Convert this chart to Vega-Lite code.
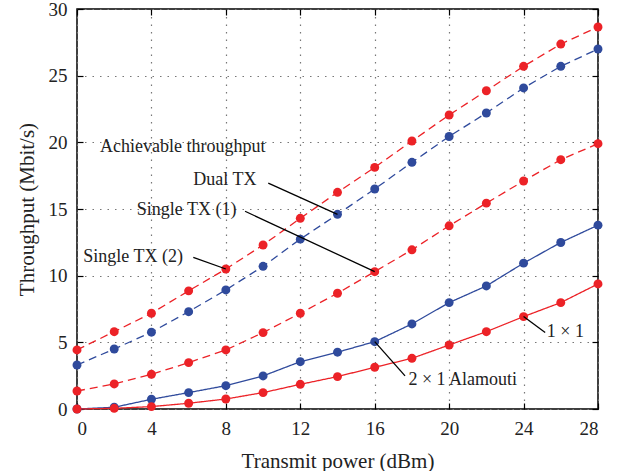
{
  "$schema": "https://vega.github.io/schema/vega-lite/v6.json",
  "width": 521,
  "height": 400,
  "autosize": "none",
  "padding": {"left": 77, "top": 9, "right": 21, "bottom": 62},
  "background": "white",
  "config": {
    "view": {"stroke": "black", "strokeWidth": 1.5},
    "font": "Liberation Serif",
    "axis": {
      "labelFont": "Liberation Serif",
      "titleFont": "Liberation Serif",
      "labelFontSize": 19,
      "titleFontSize": 21,
      "titleFontWeight": "normal",
      "labelColor": "#222",
      "titleColor": "#222",
      "domain": false,
      "tickColor": "black",
      "tickSize": -6,
      "tickWidth": 1.2,
      "gridColor": "#777",
      "gridDash": [1.5, 6],
      "gridWidth": 1.2
    }
  },
  "datasets": {
    "curves": [
      {"series": "single_tx_2", "p": 0, "t": 4.43}, {"series": "single_tx_2", "p": 2, "t": 5.8}, {"series": "single_tx_2", "p": 4, "t": 7.18}, {"series": "single_tx_2", "p": 6, "t": 8.86}, {"series": "single_tx_2", "p": 8, "t": 10.5}, {"series": "single_tx_2", "p": 10, "t": 12.3}, {"series": "single_tx_2", "p": 12, "t": 14.3}, {"series": "single_tx_2", "p": 14, "t": 16.25}, {"series": "single_tx_2", "p": 16, "t": 18.12}, {"series": "single_tx_2", "p": 18, "t": 20.1}, {"series": "single_tx_2", "p": 20, "t": 22.05}, {"series": "single_tx_2", "p": 22, "t": 23.87}, {"series": "single_tx_2", "p": 24, "t": 25.7}, {"series": "single_tx_2", "p": 26, "t": 27.37}, {"series": "single_tx_2", "p": 28, "t": 28.65},
      {"series": "dual_tx", "p": 0, "t": 3.3}, {"series": "dual_tx", "p": 2, "t": 4.5}, {"series": "dual_tx", "p": 4, "t": 5.76}, {"series": "dual_tx", "p": 6, "t": 7.3}, {"series": "dual_tx", "p": 8, "t": 8.93}, {"series": "dual_tx", "p": 10, "t": 10.7}, {"series": "dual_tx", "p": 12, "t": 12.74}, {"series": "dual_tx", "p": 14, "t": 14.6}, {"series": "dual_tx", "p": 16, "t": 16.5}, {"series": "dual_tx", "p": 18, "t": 18.5}, {"series": "dual_tx", "p": 20, "t": 20.44}, {"series": "dual_tx", "p": 22, "t": 22.2}, {"series": "dual_tx", "p": 24, "t": 24.08}, {"series": "dual_tx", "p": 26, "t": 25.7}, {"series": "dual_tx", "p": 28, "t": 27.0},
      {"series": "single_tx_1", "p": 0, "t": 1.35}, {"series": "single_tx_1", "p": 2, "t": 1.88}, {"series": "single_tx_1", "p": 4, "t": 2.6}, {"series": "single_tx_1", "p": 6, "t": 3.48}, {"series": "single_tx_1", "p": 8, "t": 4.43}, {"series": "single_tx_1", "p": 10, "t": 5.73}, {"series": "single_tx_1", "p": 12, "t": 7.18}, {"series": "single_tx_1", "p": 14, "t": 8.68}, {"series": "single_tx_1", "p": 16, "t": 10.3}, {"series": "single_tx_1", "p": 18, "t": 11.94}, {"series": "single_tx_1", "p": 20, "t": 13.74}, {"series": "single_tx_1", "p": 22, "t": 15.44}, {"series": "single_tx_1", "p": 24, "t": 17.1}, {"series": "single_tx_1", "p": 26, "t": 18.7}, {"series": "single_tx_1", "p": 28, "t": 19.9},
      {"series": "alamouti_2x1", "p": 0, "t": 0.0}, {"series": "alamouti_2x1", "p": 2, "t": 0.13}, {"series": "alamouti_2x1", "p": 4, "t": 0.73}, {"series": "alamouti_2x1", "p": 6, "t": 1.23}, {"series": "alamouti_2x1", "p": 8, "t": 1.75}, {"series": "alamouti_2x1", "p": 10, "t": 2.48}, {"series": "alamouti_2x1", "p": 12, "t": 3.55}, {"series": "alamouti_2x1", "p": 14, "t": 4.26}, {"series": "alamouti_2x1", "p": 16, "t": 5.05}, {"series": "alamouti_2x1", "p": 18, "t": 6.38}, {"series": "alamouti_2x1", "p": 20, "t": 7.98}, {"series": "alamouti_2x1", "p": 22, "t": 9.23}, {"series": "alamouti_2x1", "p": 24, "t": 10.94}, {"series": "alamouti_2x1", "p": 26, "t": 12.49}, {"series": "alamouti_2x1", "p": 28, "t": 13.79},
      {"series": "siso_1x1", "p": 0, "t": 0.0}, {"series": "siso_1x1", "p": 2, "t": 0.05}, {"series": "siso_1x1", "p": 4, "t": 0.18}, {"series": "siso_1x1", "p": 6, "t": 0.43}, {"series": "siso_1x1", "p": 8, "t": 0.75}, {"series": "siso_1x1", "p": 10, "t": 1.23}, {"series": "siso_1x1", "p": 12, "t": 1.85}, {"series": "siso_1x1", "p": 14, "t": 2.43}, {"series": "siso_1x1", "p": 16, "t": 3.13}, {"series": "siso_1x1", "p": 18, "t": 3.8}, {"series": "siso_1x1", "p": 20, "t": 4.8}, {"series": "siso_1x1", "p": 22, "t": 5.8}, {"series": "siso_1x1", "p": 24, "t": 6.93}, {"series": "siso_1x1", "p": 26, "t": 7.98}, {"series": "siso_1x1", "p": 28, "t": 9.38}
    ],
    "notes": [
      {"label": "Achievable throughput", "lx": 1.24, "ly": 19.67},
      {"label": "Dual TX", "lx": 6.25, "ly": 17.14, "x1": 10.28, "y1": 16.94, "x2": 14, "y2": 14.6},
      {"label": "Single TX (1)", "lx": 3.21, "ly": 14.9, "x1": 9.03, "y1": 14.83, "x2": 16, "y2": 10.3},
      {"label": "Single TX (2)", "lx": 0.34, "ly": 11.43, "x1": 6.25, "y1": 11.37, "x2": 8, "y2": 10.5},
      {"label": "1 × 1", "lx": 25.25, "ly": 5.8, "x1": 25.16, "y1": 5.74, "x2": 24, "y2": 6.93},
      {"label": "2 × 1 Alamouti", "lx": 17.81, "ly": 2.18, "x1": 17.63, "y1": 2.48, "x2": 16, "y2": 5.05}
    ]
  },
  "layer": [
    {
      "data": {"name": "curves"},
      "mark": {"type": "line", "strokeWidth": 1.3},
      "encoding": {
        "x": {"field": "p", "type": "quantitative", "scale": {"domain": [0, 28], "nice": false},
              "axis": {"values": [0, 4, 8, 12, 16, 20, 24, 28], "title": "Transmit power (dBm)", "labelPadding": 16, "titlePadding": 12, "grid": true}},
        "y": {"field": "t", "type": "quantitative", "scale": {"domain": [0, 30], "nice": false},
              "axis": {"values": [0, 5, 10, 15, 20, 25, 30], "title": "Throughput (Mbit/s)", "labelPadding": 16, "titlePadding": 11, "grid": true}},
        "detail": {"field": "series"},
        "color": {"field": "series", "type": "nominal", "legend": null,
                  "scale": {"domain": ["single_tx_2", "dual_tx", "single_tx_1", "alamouti_2x1", "siso_1x1"],
                            "range": ["#ec2227", "#2f4a9c", "#ec2227", "#2f4a9c", "#ec2227"]}},
        "strokeDash": {"field": "series", "type": "nominal", "legend": null,
                       "scale": {"domain": ["single_tx_2", "dual_tx", "single_tx_1", "alamouti_2x1", "siso_1x1"],
                                 "range": [[8, 5], [8, 5], [8, 5], [1, 0], [1, 0]]}}
      }
    },
    {
      "data": {"name": "curves"},
      "mark": {"type": "point", "shape": "circle", "filled": true, "opacity": 1, "size": 80},
      "encoding": {
        "x": {"field": "p", "type": "quantitative", "axis": null},
        "y": {"field": "t", "type": "quantitative", "axis": null},
        "color": {"field": "series", "type": "nominal", "legend": null}
      }
    },
    {
      "data": {"name": "notes"},
      "transform": [{"filter": "isValid(datum.x1)"}],
      "mark": {"type": "rule", "color": "black", "strokeWidth": 1.3},
      "encoding": {
        "x": {"field": "x1", "type": "quantitative", "axis": null},
        "y": {"field": "y1", "type": "quantitative", "axis": null},
        "x2": {"field": "x2"},
        "y2": {"field": "y2"}
      }
    },
    {
      "data": {"name": "notes"},
      "mark": {"type": "text", "align": "left", "baseline": "middle", "font": "Liberation Serif", "fontSize": 18, "color": "#222"},
      "encoding": {
        "x": {"field": "lx", "type": "quantitative", "axis": null},
        "y": {"field": "ly", "type": "quantitative", "axis": null},
        "text": {"field": "label"}
      }
    },
    {
      "data": {"values": [{"p": 0, "t": 0}]},
      "mark": {"type": "point", "opacity": 0},
      "encoding": {
        "x": {"field": "p", "type": "quantitative",
              "axis": {"orient": "top", "values": [0, 4, 8, 12, 16, 20, 24, 28], "labels": false, "title": null, "grid": false}},
        "y": {"field": "t", "type": "quantitative",
              "axis": {"orient": "right", "values": [0, 5, 10, 15, 20, 25, 30], "labels": false, "title": null, "grid": false}}
      }
    }
  ],
  "resolve": {"axis": {"x": "independent", "y": "independent"}}
}
